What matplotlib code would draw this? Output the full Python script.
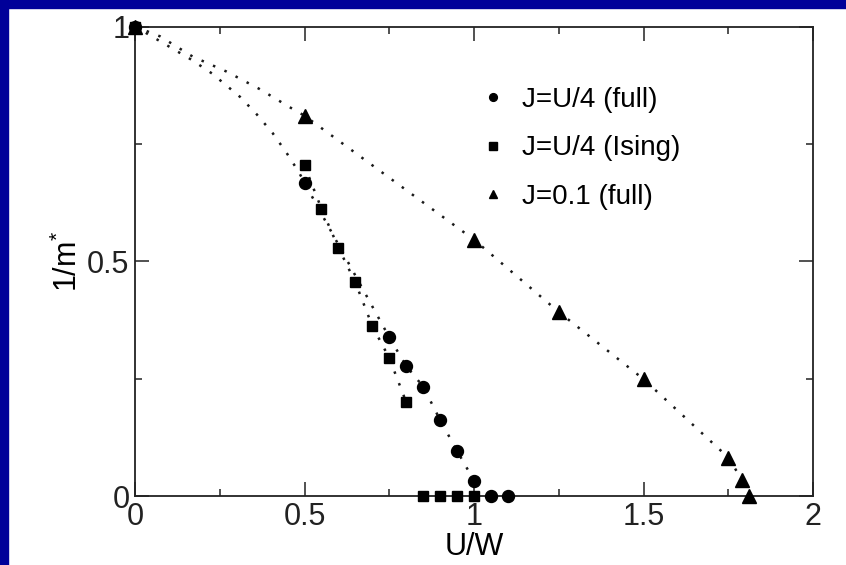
import matplotlib
matplotlib.use("Agg")
import matplotlib.pyplot as plt
from matplotlib.patches import Rectangle
from matplotlib.ticker import MultipleLocator

plt.rcParams['font.family'] = ['Liberation Sans', 'DejaVu Sans']
plt.rcParams['mathtext.fontset'] = 'custom'
plt.rcParams['mathtext.rm'] = 'Liberation Sans'
plt.rcParams['mathtext.it'] = 'Liberation Sans'

# ---- data ----
full_x = [0.0, 0.50, 0.75, 0.80, 0.85, 0.90, 0.95, 1.00, 1.05, 1.10]
full_y = [1.0, 0.667, 0.338, 0.277, 0.233, 0.162, 0.096, 0.033, 0.0, 0.0]

ising_x = [0.0, 0.50, 0.55, 0.60, 0.65, 0.70, 0.75, 0.80, 0.85, 0.90, 0.95, 1.00]
ising_y = [1.0, 0.704, 0.612, 0.529, 0.455, 0.362, 0.294, 0.200, 0.0, 0.0, 0.0, 0.0]

j01_x = [0.0, 0.50, 1.00, 1.25, 1.50, 1.75, 1.79, 1.81]
j01_y = [1.0, 0.81, 0.546, 0.392, 0.249, 0.082, 0.035, 0.0]

# dotted guide curves
fit_full_x = [0.0, 0.167, 0.227, 0.31, 0.359, 0.406, 0.447, 0.484, 0.50, 0.75, 0.80, 0.85, 0.90, 0.95, 1.00]
fit_full_y = [1.0, 0.929, 0.90, 0.85, 0.813, 0.773, 0.731, 0.689, 0.667, 0.338, 0.277, 0.233, 0.162, 0.096, 0.033]

fit_ising_x = [0.50, 0.55, 0.60, 0.65, 0.70, 0.75, 0.80]
fit_ising_y = [0.704, 0.612, 0.529, 0.455, 0.362, 0.294, 0.200]

fit_j01_x = [0.0, 0.074, 0.17, 0.27, 0.367, 0.459, 0.50, 1.00, 1.25, 1.50, 1.75, 1.79]
fit_j01_y = [1.0, 0.979, 0.936, 0.904, 0.867, 0.827, 0.81, 0.546, 0.392, 0.249, 0.082, 0.035]

labels = ['J=U/4 (full)', 'J=U/4 (Ising)', 'J=0.1 (full)']
x_ticks = [0, 0.5, 1, 1.5, 2]
x_ticklabels = ['0', '0.5', '1', '1.5', '2']
y_ticks = [0, 0.5, 1]
y_ticklabels = ['0', '0.5', '1']

# ---- figure ----
fig = plt.figure(figsize=(8.46, 5.65), dpi=100)
fig.patch.set_facecolor('white')
blue = '#000099'
fig.add_artist(Rectangle((0, 0), 8 / 846, 1, transform=fig.transFigure, color=blue, zorder=0))
fig.add_artist(Rectangle((0, 1 - 8 / 565), 1, 8 / 565, transform=fig.transFigure, color=blue, zorder=0))

ax = fig.add_axes([135 / 846, 1 - 496 / 565, (813 - 135) / 846, (496 - 26.5) / 565])

dot = (0, (1, 4))
for fx, fy in [(fit_full_x, fit_full_y), (fit_ising_x, fit_ising_y), (fit_j01_x, fit_j01_y)]:
    ax.plot(fx, fy, linestyle=dot, color='#1a1a1a', lw=1.8, zorder=2)

h1, = ax.plot(full_x, full_y, 'o', color='black', ms=8.6, mec='black', clip_on=False, zorder=4, label=labels[0])
h2, = ax.plot(ising_x, ising_y, 's', color='black', ms=7.8, mec='black', clip_on=False, zorder=4, label=labels[1])
h3, = ax.plot(j01_x, j01_y, '^', color='black', ms=9.5, mec='black', clip_on=False, zorder=4, label=labels[2])

ax.set_xlim(0, 2)
ax.set_ylim(0, 1)
ax.set_xticks(x_ticks)
ax.set_xticklabels(x_ticklabels)
ax.set_yticks(y_ticks)
ax.set_yticklabels(y_ticklabels)
ax.xaxis.set_minor_locator(MultipleLocator(0.25))
ax.yaxis.set_minor_locator(MultipleLocator(0.25))
ax.tick_params(which='both', direction='in', top=True, right=True, width=1.1, colors='#222222')
ax.tick_params(which='major', length=10, labelsize=22, pad=4)
ax.tick_params(which='minor', length=5)
for s in ax.spines.values():
    s.set_linewidth(1.3)
    s.set_color('#222222')

ax.set_xlabel('U/W', fontsize=22, labelpad=0)
ax.set_ylabel(r'1/m$^{*}$', fontsize=22, labelpad=2)

leg = ax.legend(handles=[h1, h2, h3], loc='upper left', bbox_to_anchor=(0.4705, 0.924),
                frameon=False, fontsize=20, markerscale=0.65, handlelength=1.0,
                handletextpad=0.55, labelspacing=0.8)

fig.savefig('out.png', dpi=100)
